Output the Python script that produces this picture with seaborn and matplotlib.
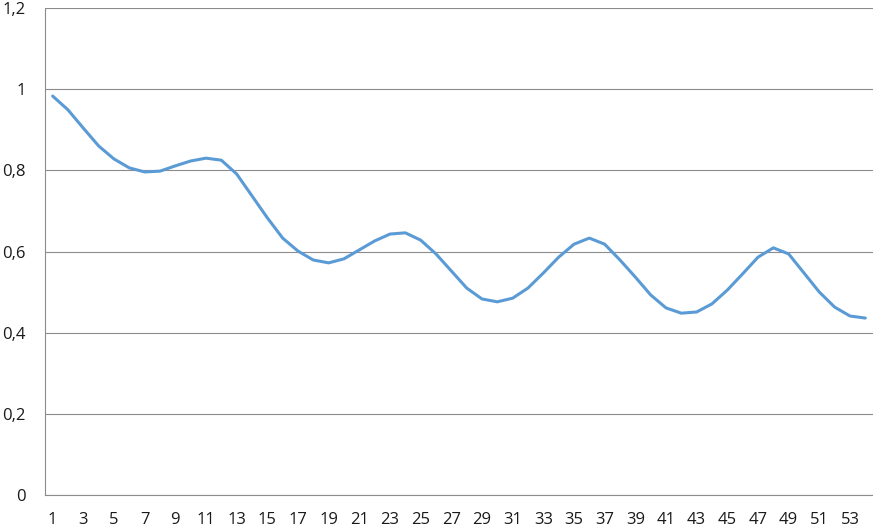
import numpy as np
import pandas as pd
import matplotlib
matplotlib.use("Agg")
import matplotlib.pyplot as plt
import seaborn as sns

# ---------------------------------------------------
# Daten
# ---------------------------------------------------
categories = list(range(1, 55))
values = [
    0.983, 0.949, 0.904, 0.860, 0.828, 0.806, 0.796, 0.798, 0.811, 0.823,
    0.830, 0.825, 0.791, 0.737, 0.683, 0.633, 0.601, 0.579, 0.572, 0.582,
    0.604, 0.626, 0.643, 0.646, 0.628, 0.594, 0.552, 0.510, 0.483, 0.476,
    0.485, 0.510, 0.547, 0.586, 0.618, 0.633, 0.618, 0.579, 0.537, 0.493,
    0.461, 0.448, 0.451, 0.471, 0.505, 0.545, 0.586, 0.609, 0.594, 0.547,
    0.500, 0.463, 0.441, 0.436,
]
y_ticks = [0, 0.2, 0.4, 0.6, 0.8, 1.0, 1.2]
y_labels = ["0", "0,2", "0,4", "0,6", "0,8", "1", "1,2"]

df = pd.DataFrame({"x": categories, "y": values})

sns.set_style("white")
plt.rcParams["font.family"] = ["Open Sans", "DejaVu Sans"]

fig = plt.figure(figsize=(8.73, 5.30), dpi=100)
ax = fig.add_axes([45 / 873, 1 - 495 / 530, 828 / 873, 487 / 530])

sns.lineplot(data=df, x="x", y="y", ax=ax, color="#5B9BD5", linewidth=2.2)

# Achsen
ax.set_xlim(0.5, 54.5)
ax.set_ylim(0, 1.2)
ax.set_xlabel("")
ax.set_ylabel("")

ax.set_yticks(y_ticks)
ax.set_yticklabels(y_labels)
ax.yaxis.grid(True, color="#8c8c8c", linewidth=0.8)
ax.set_axisbelow(True)

ax.set_xticks(categories[::2])
ax.set_xticklabels([str(c) for c in categories[::2]])
ax.set_xticks(np.arange(0.5, 55, 1), minor=True)
ax.tick_params(axis="x", which="major", length=0, pad=12, labelsize=12, colors="#1a1a1a")
ax.tick_params(axis="x", which="minor", length=4, width=0.8, color="#8c8c8c", direction="out")
ax.tick_params(axis="y", length=5, width=0.8, color="#8c8c8c", pad=9, labelsize=12, labelcolor="#1a1a1a")

for side in ["top", "right"]:
    ax.spines[side].set_visible(False)
for side in ["left", "bottom"]:
    ax.spines[side].set_color("#8c8c8c")
    ax.spines[side].set_linewidth(0.8)

fig.savefig("out.png", dpi=100)
plt.close(fig)
